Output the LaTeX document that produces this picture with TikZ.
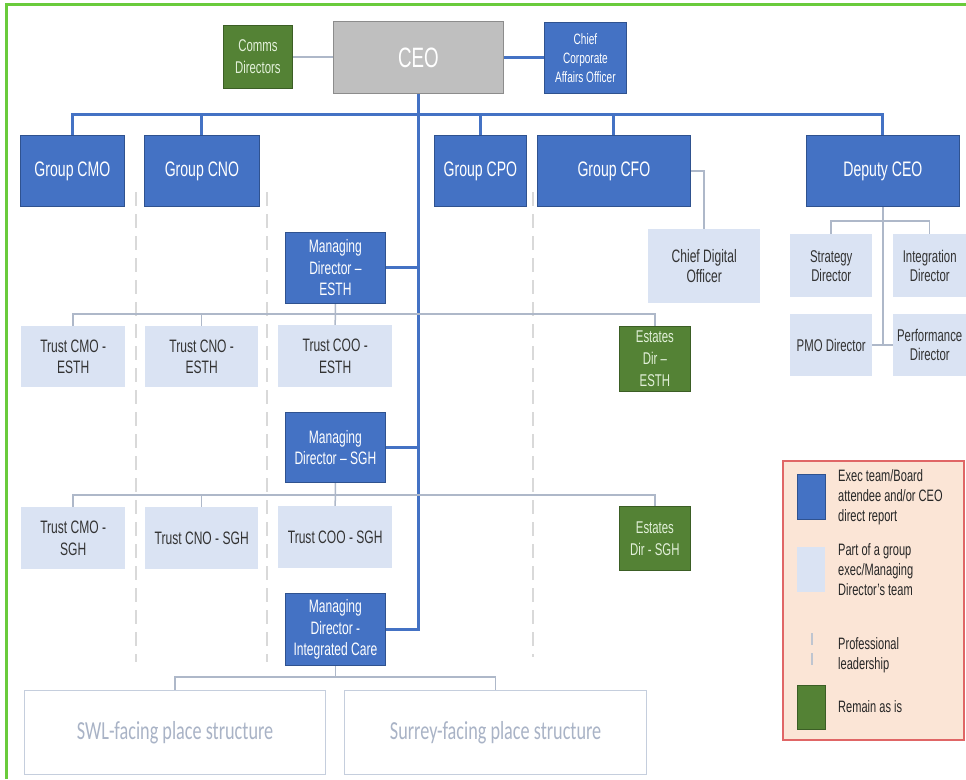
\documentclass[tikz,border=0pt]{standalone}
\usepackage{fontspec}
\setmainfont[FakeStretch=0.67]{Liberation Sans}
\newfontfamily\calfont[FakeStretch=0.7]{Carlito}
\usetikzlibrary{backgrounds}
\newcommand\fsz[2]{\fontsize{#1}{#2}\selectfont}
\definecolor{cblue}{HTML}{4472C4}
\definecolor{cblueborder}{HTML}{2F528F}
\definecolor{clight}{HTML}{DAE3F3}
\definecolor{ctext}{HTML}{404040}
\definecolor{cgreen}{HTML}{548235}
\definecolor{cgreenborder}{HTML}{3B5E25}
\definecolor{cgreentext}{HTML}{E2F0D9}
\definecolor{cgray}{HTML}{BFBFBF}
\definecolor{cgrayborder}{HTML}{8C8C8C}
\definecolor{cgrayline}{HTML}{AEB8C9}
\definecolor{cdash}{HTML}{D9D9D9}
\definecolor{clegend}{HTML}{FBE5D6}
\definecolor{clegendborder}{HTML}{E06666}
\definecolor{cframe}{HTML}{6ACB3C}
\definecolor{cplaceborder}{HTML}{C5CEDD}
\definecolor{cplacetext}{HTML}{A9B3C6}
\begin{document}
\begin{tikzpicture}[x=1pt,y=-1pt,
  box/.style={rectangle, inner sep=0pt, anchor=north west, align=center},
  sz/.style 2 args={minimum width=#1pt, minimum height=#2pt},
  bluebox/.style={box, fill=cblue, draw=cblueborder, line width=0.8pt, text=white},
  lightbox/.style={box, fill=clight, text=ctext!80!black},
  greenbox/.style={box, fill=cgreen, draw=cgreenborder, line width=0.8pt, text=cgreentext},
  ceobox/.style={box, fill=cgray, draw=cgrayborder, line width=1pt, text=white},
  placebox/.style={box, fill=white, draw=cplaceborder, line width=1.2pt, text=cplacetext, font=\calfont\fsz{26}{30}},
  legtext/.style={anchor=west, align=left, inner sep=0pt, text=black!85, font=\fsz{16.5}{20}},
  blueline/.style={draw=cblue, line width=3pt},
  grayline/.style={draw=cgrayline, line width=1.5pt},
  profline/.style={draw=cdash, line width=2pt, dash pattern=on 14pt off 8pt}]
\useasboundingbox (0,0) rectangle (966,779);

% top row
\node[greenbox, sz={69}{63}, font=\fsz{17}{22}] (comms) at (223,25) {Comms\\Directors};
\node[ceobox, sz={170}{72}, font=\fsz{28}{30}] (ceo) at (333,21) {CEO};
\node[bluebox, sz={82}{71}, font=\fsz{15}{19}] (cca) at (544,22) {Chief\\Corporate\\Affairs Officer};

% group row
\node[bluebox, sz={104}{71}, font=\fsz{21}{24}] (gcmo) at (20,135) {Group CMO};
\node[bluebox, sz={115}{71}, font=\fsz{21}{24}] (gcno) at (144,135) {Group CNO};
\node[bluebox, sz={92}{71}, font=\fsz{21}{24}] (gcpo) at (434,135) {Group CPO};
\node[bluebox, sz={153}{71}, font=\fsz{21}{24}] (gcfo) at (537,135) {Group CFO};
\node[bluebox, sz={153}{71}, font=\fsz{21}{24}] (dceo) at (806,135) {Deputy CEO};

% right side teams
\node[lightbox, sz={112}{74}, font=\fsz{18}{20}] (cdo) at (648,229) {Chief Digital\\Officer};
\node[lightbox, sz={82}{63}, font=\fsz{17}{19}] (strat) at (790,234) {Strategy\\Director};
\node[lightbox, sz={73}{63}, font=\fsz{17}{19}] (integ) at (893,234) {Integration\\Director};
\node[lightbox, sz={82}{62}, font=\fsz{17}{19}] (pmo) at (790,314) {PMO Director};
\node[lightbox, sz={73}{62}, font=\fsz{17}{19}] (perf) at (893,314) {Performance\\Director};

% ESTH
\node[bluebox, sz={100}{71}, font=\fsz{18}{21.5}] (mdesth) at (285,232) {Managing\\Director –\\ESTH};
\node[lightbox, sz={104}{61}, font=\fsz{18}{21.5}] (tcmoe) at (21,326) {Trust CMO -\\ESTH};
\node[lightbox, sz={113}{61}, font=\fsz{18}{21.5}] (tcnoe) at (145,326) {Trust CNO -\\ESTH};
\node[lightbox, sz={114}{62}, font=\fsz{18}{21.5}] (tcooe) at (278,325) {Trust COO -\\ESTH};
\node[greenbox, sz={71}{65}, font=\fsz{17}{22}] (estesth) at (619,326) {Estates\\Dir –\\ESTH};

% SGH
\node[bluebox, sz={100}{70}, font=\fsz{18}{21.5}] (mdsgh) at (285,412) {Managing\\Director – SGH};
\node[lightbox, sz={104}{62}, font=\fsz{18}{21.5}] (tcmos) at (21,507) {Trust CMO -\\SGH};
\node[lightbox, sz={113}{62}, font=\fsz{18}{21.5}] (tcnos) at (145,507) {Trust CNO - SGH};
\node[lightbox, sz={114}{62}, font=\fsz{18}{21.5}] (tcoos) at (278,506) {Trust COO - SGH};
\node[greenbox, sz={71}{64}, font=\fsz{17}{22}] (estsgh) at (619,506) {Estates\\Dir - SGH};

% Integrated care
\node[bluebox, sz={100}{72}, font=\fsz{18}{21.5}] (mdic) at (285,593) {Managing\\Director -\\Integrated Care};
\node[placebox, sz={301}{84}] (swl) at (24,690) {SWL-facing place structure};
\node[placebox, sz={302}{84}] (surrey) at (344,690) {Surrey-facing place structure};

% legend
\node[box, sz={181}{279}, fill=clegend, draw=clegendborder, line width=1.5pt] (legend) at (782,460) {};
\node[bluebox, sz={28}{45}] (lgblue) at (797,474) {};
\node[lightbox, sz={28}{45}] (lglight) at (797,547) {};
\node[greenbox, sz={28}{44}] (lggreen) at (797,685) {};
\draw[profline, draw=clight!70!gray, dash pattern=on 12pt off 8pt] (812,633) -- (812,672);
\node[legtext] (lt1) at (838,497) {Exec team/Board\\attendee and/or CEO\\direct report};
\node[legtext] (lt2) at (838,570) {Part of a group\\exec/Managing\\Director’s team};
\node[legtext] (lt3) at (838,655) {Professional\\leadership};
\node[legtext] (lt4) at (838,707) {Remain as is};

\begin{scope}[on background layer]
  \fill[white] (0,0) rectangle (966,779);
  % professional leadership dashed lines
  \draw[profline] (136,192) -- (136,662);
  \draw[profline] (267,192) -- (267,662);
  \draw[profline] (533,192) -- (533,657);

  \coordinate (busy) at (0,114);
  \coordinate (eb) at (0,314);
  \coordinate (sb) at (0,495);
  \coordinate (ib) at (0,677);

  % blue reporting lines
  \draw[grayline] (comms.east) -- (ceo.west |- comms.east);
  \draw[blueline] (ceo.east) -- (cca.west |- ceo.east);
  \draw[blueline] (gcmo.north) -- (gcmo.north |- busy) -- (dceo.north |- busy) -- (dceo.north);
  \foreach \n in {gcno,gcpo,gcfo} \draw[blueline] (\n.north) -- (\n.north |- busy);
  \draw[blueline] (ceo.south) -- (ceo.south |- mdic.east) -- (mdic.east);
  \draw[blueline] (mdesth.east) -- (ceo.south |- mdesth.east);
  \draw[blueline] (mdsgh.east) -- (ceo.south |- mdsgh.east);

  % gray team lines
  \draw[grayline] (gcfo.east) -| (cdo.north);
  \draw[grayline] (dceo.south) -- (dceo.south |- pmo.east);
  \draw[grayline] (pmo.east) -- (perf.west);
  \draw[grayline] (strat.north) -- ++(0,-13) -| (integ.north);

  \draw[grayline] (tcmoe.north) -- (tcmoe.north |- eb) -| (estesth.north);
  \draw[grayline] (tcnoe.north) -- (tcnoe.north |- eb);
  \draw[grayline] (mdesth.south) -- (tcooe.north);

  \draw[grayline] (tcmos.north) -- (tcmos.north |- sb) -| (estsgh.north);
  \draw[grayline] (tcnos.north) -- (tcnos.north |- sb);
  \draw[grayline] (mdsgh.south) -- (tcoos.north);

  \draw[grayline] (swl.north) -- (swl.north |- ib) -| (surrey.north);
  \draw[grayline] (mdic.south) -- (mdic.south |- ib);

  % green frame
  \draw[cframe, line width=3pt] (6,779) -- (6,4.5) -- (966,4.5);
\end{scope}
\end{tikzpicture}
\end{document}
